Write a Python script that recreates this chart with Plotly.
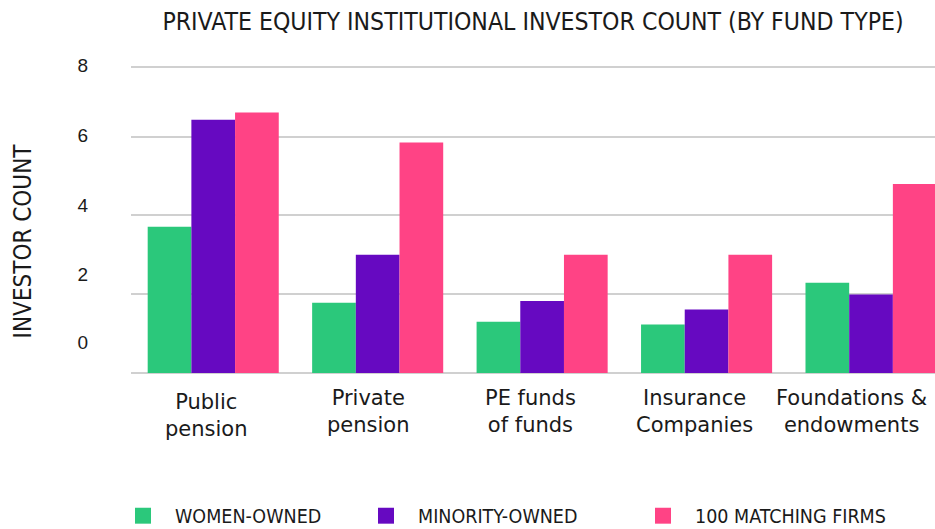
import plotly.graph_objects as go

categories = ["Public<br>pension", "Private<br>pension", "PE funds<br>of funds",
              "Insurance<br>Companies", "Foundations &<br>endowments"]
women_owned = [3.71, 1.78, 1.30, 1.23, 2.29]
minority_owned = [6.43, 3.00, 1.83, 1.61, 1.99]
matching_firms = [6.61, 5.85, 3.00, 3.00, 4.80]
series_names = ["WOMEN-OWNED", "MINORITY-OWNED", "100 MATCHING FIRMS"]

grid_vals = [0, 2, 4, 6, 7.76]
label_vals = [0.78, 2.51, 4.26, 6.04, 7.82]
label_text = ["0", "2", "4", "6", "8"]

colors = ["#2bc87b", "#6609c1", "#ff4385"]
COND = "DejaVu Sans Condensed, Liberation Sans Narrow, Roboto Condensed, Roboto"
GROT = "DejaVu Sans, Roboto"
PLAIN = "Liberation Sans, Arial, Roboto"

fig = go.Figure()
legends = ["legend", "legend2", "legend3"]
for vals, name, col, lg in zip([women_owned, minority_owned, matching_firms], series_names, colors, legends):
    fig.add_trace(go.Bar(x=categories, y=vals, name=name, marker=dict(color=col, line=dict(width=0)),
                         showlegend=False, legendgroup=name))
    # legend entry with a larger square swatch
    fig.add_trace(go.Scatter(x=[None], y=[None], mode="markers", name=name, legend=lg,
                             legendgroup=name,
                             marker=dict(symbol="square", size=18, color=col, line=dict(width=0))))

YMAX = 7.944
fig.update_layout(
    width=935, height=529,
    margin=dict(l=131, r=0, t=60, b=156),
    paper_bgcolor="white", plot_bgcolor="white",
    barmode="group", bargap=0.203, bargroupgap=0,
    title=dict(text="PRIVATE EQUITY INSTITUTIONAL INVESTOR COUNT (BY FUND TYPE)",
               x=0.5, xref="paper", xanchor="center", y=1 - 21 / 529, yref="container",
               yanchor="middle",
               font=dict(family=COND, size=24.6, color="#1a1a1a")),
    xaxis=dict(range=[-0.5, 4.389], showgrid=False, showline=False, ticks="",
               showticklabels=False, automargin=False),
    yaxis=dict(range=[0, YMAX], tickvals=grid_vals, showticklabels=False, showgrid=True,
               gridcolor="#d0d0d0", gridwidth=1.6, zeroline=True, zerolinecolor="#d0d0d0",
               zerolinewidth=1.6, ticks="", automargin=False),
    yaxis2=dict(range=[0, YMAX], overlaying="y", side="left", tickvals=label_vals, ticktext=label_text,
                showgrid=False, zeroline=False, showline=False, ticks="", automargin=False,
                tickfont=dict(family=PLAIN, size=19, color="#1a1a1a"), ticklabelstandoff=42),
    showlegend=True,
)

# y-axis title
fig.add_annotation(text="INVESTOR COUNT", textangle=-90, xref="paper", yref="paper",
                   x=(23 - 131) / 804, y=(373.3 - 241.7) / 313, xanchor="center", yanchor="middle",
                   showarrow=False, font=dict(family=COND, size=24, color="#1a1a1a"))

# category labels under each group, placed on the category axis
label_shift = [-7, -9, -12, -12, -20]
label_yshift = [-15, -11, -11, -11, -11]
for cat, xs, ys in zip(categories, label_shift, label_yshift):
    fig.add_annotation(x=cat, xref="x", y=0, yref="y", yanchor="top", xanchor="center",
                       text=cat, showarrow=False, xshift=xs, yshift=ys, align="center",
                       font=dict(family=GROT, size=21, color="#1a1a1a"))

leg_x = [111, 354, 631]
for lg, lx in zip(legends, leg_x):
    fig.update_layout({lg: dict(x=lx / 935, xref="container", y=1 - 516 / 529,
                                yref="container", xanchor="left", yanchor="middle",
                                orientation="h", bgcolor="rgba(0,0,0,0)", itemwidth=54,
                                itemsizing="trace",
                                font=dict(family=COND, size=19.5, color="#1a1a1a"))})

# invisible trace to anchor the label axis
fig.add_trace(go.Scatter(x=[categories[0]], y=[0], yaxis="y2", mode="markers",
                         marker=dict(opacity=0), showlegend=False, hoverinfo="skip"))

fig.write_html("out.html", config={"displayModeBar": False},
               post_script="document.body.style.margin='0';")
